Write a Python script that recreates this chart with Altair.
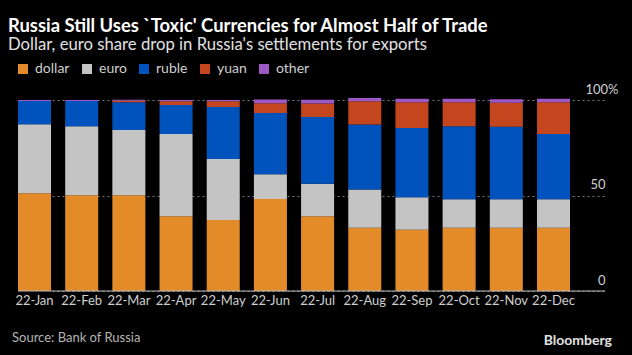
import altair as alt
import pandas as pd

months = ["22-Jan", "22-Feb", "22-Mar", "22-Apr", "22-May", "22-Jun",
          "22-Jul", "22-Aug", "22-Sep", "22-Oct", "22-Nov", "22-Dec"]
currencies = ["dollar", "euro", "ruble", "yuan", "other"]
colors = ["#E38B28", "#C4C4C4", "#0052BC", "#C3461E", "#9E58C6"]

dollar = [51.2, 50.1, 50.1, 39.1, 37.2, 48.2, 39.1, 33.1, 32.1, 33.1, 33.1, 33.1]
euro   = [36.1, 36.1, 34.2, 43.1, 31.9, 12.9, 17.1, 20.1, 17.0, 14.9, 14.9, 14.9]
ruble  = [12.2, 13.3, 14.5, 15.2, 27.2, 32.1, 34.9, 34.0, 36.3, 38.2, 38.0, 34.2]
yuan   = [0.0, 0.0, 0.8, 2.0, 3.1, 5.1, 7.1, 12.2, 13.4, 12.6, 12.6, 16.6]
other  = [0.5, 0.5, 0.5, 0.6, 0.6, 1.9, 1.9, 1.7, 1.8, 1.8, 1.8, 1.8]

series = {"dollar": dollar, "euro": euro, "ruble": ruble, "yuan": yuan, "other": other}
rows = []
for ci, c in enumerate(currencies):
    for m, v in zip(months, series[c]):
        rows.append({"month": m, "currency": c, "share": v, "order": ci})
df = pd.DataFrame(rows)

FONT = "Lato"
W, H = 586, 191

bars = alt.Chart(df).mark_bar(clip=False).encode(
    x=alt.X("month:N", sort=months,
            scale=alt.Scale(range=[0, 552], paddingInner=0.3, paddingOuter=0),
            axis=alt.Axis(title=None, labelAngle=0, ticks=False, domain=False,
                          labelPadding=3, labelFontSize=13, labelColor="#cfcfcf",
                          labelFont=FONT)),
    y=alt.Y("share:Q", stack="zero",
            scale=alt.Scale(domain=[0, 100], nice=False, clamp=False),
            axis=alt.Axis(title=None, orient="right", values=[0, 50, 100],
                          ticks=False, tickSize=0, domain=False,
                          grid=True, gridColor="#7a7a7a", gridDash=[2, 3], gridWidth=1,
                          labelExpr="datum.value == 100 ? '100%' : datum.label",
                          labelAlign="right", labelBaseline="alphabetic",
                          labelOffset=-7,
                          labelPadding={"condition": {"test": "datum.value == 100", "value": 14}, "value": 1},
                          labelFontSize=13, labelColor="#d0d0d0", labelFont=FONT)),
    color=alt.Color("currency:N", sort=currencies,
                    scale=alt.Scale(domain=currencies, range=colors),
                    legend=alt.Legend(title=None, orient="none", direction="horizontal",
                                      legendX=-2, legendY=-38, symbolType="square",
                                      symbolSize=100, symbolStrokeWidth=0,
                                      labelFontSize=14, labelColor="#cfcfcf",
                                      labelFont=FONT, columnPadding=10, labelOffset=5)),
    order=alt.Order("order:Q"),
)

base_line = alt.Chart(pd.DataFrame({"v": [0]})).mark_rule(color="#bdbdbd", strokeWidth=1).encode(
    y="v:Q", x=alt.value(0), x2=alt.value(W + 1)
)

source = alt.Chart(pd.DataFrame({"t": ["Source: Bank of Russia"]})).mark_text(
    align="left", baseline="middle", fontSize=13, color="#b5b5b5", font=FONT
).encode(text="t:N", x=alt.value(-6), y=alt.value(H + 47))

brand = alt.Chart(pd.DataFrame({"t": ["Bloomberg"]})).mark_text(
    align="right", baseline="middle", fontSize=14, fontWeight="bold", color="#e0e0e0", font=FONT
).encode(text="t:N", x=alt.value(W + 8), y=alt.value(H + 50))

chart = alt.layer(bars, base_line, source, brand).properties(
    width=W, height=H,
    title=alt.TitleParams(
        text="Russia Still Uses `Toxic' Currencies for Almost Half of Trade",
        subtitle="Dollar, euro share drop in Russia's settlements for exports",
        anchor="start", dx=-4, offset=8,
        font=FONT, fontSize=18.4, fontWeight="bold", color="#ffffff",
        subtitleFont=FONT, subtitleFontSize=16.7, subtitleColor="#e0e0e0",
        subtitlePadding=2,
    ),
).configure(
    background="#000000",
    padding={"left": 18, "top": 100, "right": 28, "bottom": 64},
    autosize=alt.AutoSizeParams(type="none"),
).configure_view(stroke=None)

chart.save("out.html", embed_options={"renderer": "svg", "actions": False})
